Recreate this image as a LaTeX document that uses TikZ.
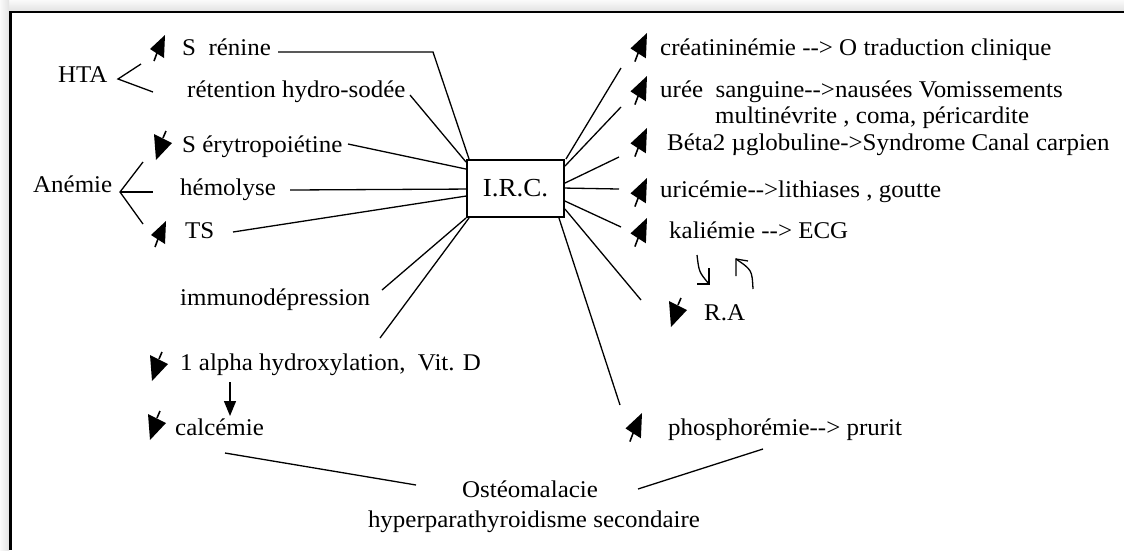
\documentclass[tikz,border=0pt]{standalone}
\usepackage{fontspec}
\setmainfont{Liberation Serif}[FakeStretch=1.04,Ligatures=TeXOff]
\usetikzlibrary{calc,arrows.meta}
\begin{document}
\begin{tikzpicture}[x=1pt,y=-1pt,
  lbl/.style={inner sep=0pt, anchor=base west, font=\fontsize{24}{28}\selectfont},
  conn/.style={line width=1.3pt},
  upglyph/.pic={\fill (0,0) -- (-15,14) -- (-1,23) -- cycle; \draw[line width=1.6pt] (-8,18) -- (-11,26);},
  downglyph/.pic={\fill (0,0) -- (18,9) -- (2,26) -- cycle; \draw[line width=1.6pt] (9,4) -- (12,-3);}
]
\useasboundingbox (0,0) rectangle (1124,550);
\fill[white] (0,0) rectangle (1124,550);
% frame
\shade[top color=gray!4, bottom color=gray!22] (0,0) rectangle (1124,11);
\shade[left color=gray!4, right color=gray!22] (0,0) rectangle (9,550);
\draw[line width=2.8pt] (10.5,550) -- (10.5,12) -- (1124,12);

% central box
\node[draw, line width=1.9pt, minimum width=97pt, minimum height=57pt, inner sep=0pt,
      font=\fontsize{26}{30}\selectfont] (irc) at (515.5,188.5) {I.R.C.};

% left labels
\node[lbl] (hta) at (58,82) {HTA};
\node[lbl] (renine) at (182,55) {S\ \ rénine};
\node[lbl] (retention) at (187,97) {rétention hydro-sodée};
\node[lbl] (anemie) at (33,192) {Anémie};
\node[lbl] (erythro) at (182,152) {S érytropoiétine};
\node[lbl] (hemolyse) at (180,195) {hémolyse};
\node[lbl] (ts) at (185,238) {TS};
\node[lbl] (immuno) at (180,305) {immunodépression};
\node[lbl] (alpha) at (180,370) {1 alpha hydroxylation,\ \ Vit. D};
\node[lbl] (calc) at (175,435) {calcémie};
\node[lbl, anchor=base] (osteo) at (530,497) {Ostéomalacie};
\node[lbl, anchor=base] (hyper) at (534,527) {hyperparathyroidisme secondaire};

% right labels
\node[lbl] (creat) at (660,55) {créatininémie --> O traduction clinique};
\node[lbl] (uree) at (660,97) {urée\ \ sanguine-->nausées Vomissements};
\node[lbl] (multi) at (715,123) {multinévrite , coma, péricardite};
\node[lbl] (beta) at (667,150) {Béta2 µglobuline->Syndrome Canal carpien};
\node[lbl] (uric) at (660,197) {uricémie-->lithiases , goutte};
\node[lbl] (kali) at (669,238) {kaliémie --> ECG};
\node[lbl] (ra) at (704,320) {R.A};
\node[lbl] (phos) at (668,435) {phosphorémie--> prurit};

% glyphs
\pic at (165,35) {upglyph};
\pic at (166,221) {upglyph};
\pic[scale=1.1] at (647,33) {upglyph};
\pic[scale=1.1] at (647,76) {upglyph};
\pic[scale=1.1] at (647,128) {upglyph};
\pic[scale=1.1] at (647,178) {upglyph};
\pic[scale=1.1] at (647,218) {upglyph};
\pic[scale=1.1] at (642,413) {upglyph};
\pic at (154,134) {downglyph};
\pic at (150,355) {downglyph};
\pic at (148,414) {downglyph};
\pic at (669,301) {downglyph};

% HTA and Anemie brackets
\coordinate (htaA) at (118,79);
\coordinate (htaU) at (141,64);
\coordinate (htaL) at (153,92);
\draw[conn] (htaU) -- (htaA) -- (htaL);
\coordinate (anA) at (120,192);
\coordinate (anU) at (143,162);
\coordinate (anM) at (153,192);
\coordinate (anL) at (143,224);
\draw[conn] (anU) -- (anA) -- (anL);
\draw[conn] (anA) -- (anM);

% connectors to the box (left)
\coordinate (rA) at (278,52);
\coordinate (rB) at (433,52);
\draw[conn] (rA) -- (rB) -- ($(irc.north west)+(3,0)$);
\coordinate (retA) at (410,95);
\draw[conn] (retA) -- ($(irc.north west)+(0,3)$);
\coordinate (eA) at (348,144);
\draw[conn] (eA) -- ($(irc.north west)+(0,10)$);
\coordinate (hA) at (290,190);
\draw[conn] (hA) -- ($(irc.north west)+(0,30)$);
\coordinate (tA) at (233,232);
\draw[conn] (tA) -- ($(irc.north west)+(0,37)$);
\coordinate (iA) at (382,290);
\draw[conn] (iA) -- ($(irc.south west)+(0,0)$);
\coordinate (aA) at (380,338);
\draw[conn] (aA) -- ($(irc.south west)+(3,0)$);

% connectors to the box (right)
\coordinate (cA) at (621,68);
\draw[conn] (cA) -- ($(irc.north east)+(1,0)$);
\coordinate (uA) at (621,107);
\draw[conn] (uA) -- ($(irc.north east)+(0,7)$);
\coordinate (bA) at (619,157);
\draw[conn] (bA) -- ($(irc.north east)+(0,24)$);
\coordinate (ucA) at (619,189);
\draw[conn] (ucA) -- ($(irc.north east)+(0,29)$);
\coordinate (kA) at (621,227);
\draw[conn] (kA) -- ($(irc.north east)+(0,42)$);
\coordinate (raA) at (641,300);
\draw[conn] (raA) -- ($(irc.north east)+(0,50)$);
\coordinate (pA) at (620,405);
\draw[conn] (pA) -- ($(irc.south east)+(-6,0)$);

% vitamin D -> calcemie
\coordinate (vdA) at (230,382);
\coordinate (vdB) at (230,416);
\draw[line width=1.3pt, -{Triangle[length=15pt,width=12pt]}] (vdA) -- (vdB);

% osteomalacie connectors
\coordinate (caA) at (225,453);
\coordinate (caB) at (416,485);
\draw[conn] (caA) -- (caB);
\coordinate (phA) at (638,489);
\coordinate (phB) at (763,449);
\draw[conn] (phA) -- (phB);

% small curved arrows near R.A
\coordinate (k1) at (697,255);
\coordinate (k2) at (709,284);
\draw[conn] (k1) .. controls (699,272) .. (k2);
\draw[conn] (697,284) -- (k2) -- (709,268);
\coordinate (k3) at (753,289);
\coordinate (k4) at (736,259);
\draw[conn] (k3) .. controls (752,270) .. (k4);
\draw[conn] (736,276) -- (k4) -- (748,261);
\end{tikzpicture}
\end{document}
